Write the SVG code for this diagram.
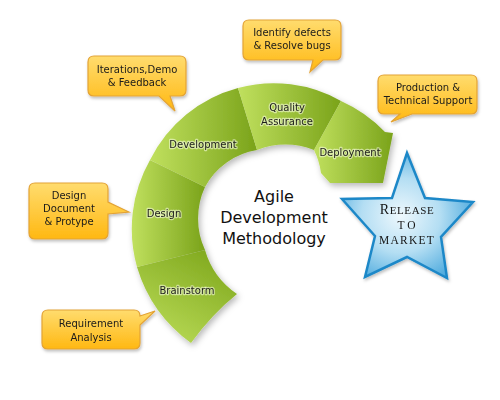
<svg xmlns="http://www.w3.org/2000/svg" width="500" height="400" viewBox="0 0 500 400">
<defs>
<linearGradient id="gH" x1="0" y1="0" x2="1" y2="0"><stop offset="0" stop-color="#c0e05e"/><stop offset="1" stop-color="#7aa31a"/></linearGradient>
<linearGradient id="gB" x1="0" y1="1" x2="0.6" y2="0"><stop offset="0" stop-color="#bfe05c"/><stop offset="1" stop-color="#84ac22"/></linearGradient>
<linearGradient id="gC" x1="0" y1="0" x2="0" y2="1"><stop offset="0" stop-color="#ffdc6e"/><stop offset="1" stop-color="#ffb812"/></linearGradient>
<radialGradient id="gS" cx="0.45" cy="0.5" r="0.6"><stop offset="0" stop-color="#eef8fd"/><stop offset="0.5" stop-color="#b4def3"/><stop offset="1" stop-color="#45a6dc"/></radialGradient>
<filter id="sh" x="-20%" y="-20%" width="140%" height="140%"><feDropShadow dx="2" dy="3" stdDeviation="3" flood-color="#000" flood-opacity="0.28"/></filter>
<filter id="sh2" x="-20%" y="-20%" width="140%" height="140%"><feDropShadow dx="1" dy="2" stdDeviation="1.5" flood-color="#000" flood-opacity="0.25"/></filter>
</defs>
<style>
.seg{stroke:none}
.lbl{font-family:"DejaVu Sans",sans-serif;font-size:10px;fill:#1c1c1c;text-anchor:middle;stroke:#fbffe8;stroke-width:2.4;stroke-opacity:0.55;paint-order:stroke;stroke-linejoin:round}
.ctr{font-family:"DejaVu Sans",sans-serif;font-size:16px;fill:#111;text-anchor:middle}
.call{fill:url(#gC);stroke:#e3a336;stroke-width:1.2}
.ct{font-family:"DejaVu Sans",sans-serif;font-size:10px;fill:#1a1a1a;text-anchor:middle}
.st{font-family:"Liberation Serif",serif;fill:#151515;text-anchor:middle}
</style>
<g id="connectors"></g>
<g id="cycle" filter="url(#sh)">
<g id="brainstorm">
<path class="seg" fill="url(#gB)" d="M191,343 A145,145 0 0 1 137,267 L205,250 A80,80 0 0 0 237,294 Q212,314 191,343 Z"/>
<text class="lbl" x="187" y="294">Brainstorm</text>
</g>
<g id="design">
<path class="seg" fill="url(#gH)" d="M137,267 A140,140 0 0 1 150,160 L205,187 A75,75 0 0 0 205,250 Z"/>
<text class="lbl" x="164" y="217">Design</text>
</g>
<g id="development">
<path class="seg" fill="url(#gH)" d="M150,160 A138,138 0 0 1 238,88 L257,150 A72,72 0 0 0 205,187 Z"/>
<text class="lbl" x="203" y="148">Development</text>
</g>
<g id="quality">
<path class="seg" fill="url(#gH)" d="M238,88 A137,137 0 0 1 341,101 L314,150 A80,80 0 0 0 257,150 Z"/>
<text class="lbl" x="287" y="111">Quality</text>
<text class="lbl" x="287" y="125">Assurance</text>
</g>
<g id="deployment">
<path class="seg" fill="url(#gH)" d="M341,101 A140,140 0 0 1 385,132 L393,133 L383,183 L330,183 L321,173 A75,75 0 0 0 314,150 Z"/>
<text class="lbl" x="350" y="156">Deployment</text>
</g>
</g>
<g id="center">
<text class="ctr" x="274" y="202">Agile</text>
<text class="ctr" x="274" y="223">Development</text>
<text class="ctr" x="274" y="244">Methodology</text>
</g>
<g id="release" filter="url(#sh2)">
<polygon fill="url(#gS)" stroke="#1e88c8" stroke-width="2.5" stroke-linejoin="miter" points="407,153 425,198 473,202 441,237 447,278 407,257 365,277 375,236 342,199 392,198"/>
<text class="st" x="407" y="214" letter-spacing="0.6"><tspan font-size="14">R</tspan><tspan font-size="11">ELEASE</tspan></text>
<text class="st" x="408" y="229" font-size="11.5" letter-spacing="3">TO</text>
<text class="st" x="407" y="244" font-size="11.5" letter-spacing="1.2">MARKET</text>
</g>
<g id="callout-iterations" filter="url(#sh2)">
<path class="call" d="M94,56 H180 Q186,56 186,62 V90 Q186,96 180,96 H170 L175,111 L159,96 H94 Q88,96 88,90 V62 Q88,56 94,56 Z"/>
<text class="ct" x="137" y="73">Iterations,Demo</text>
<text class="ct" x="137" y="86">&amp; Feedback</text>
</g>
<g id="callout-defects" filter="url(#sh2)">
<path class="call" d="M249,20 H335 Q341,20 341,26 V54 Q341,60 335,60 H323 L310,72 L313,60 H249 Q243,60 243,54 V26 Q243,20 249,20 Z"/>
<text class="ct" x="292" y="36">Identify defects</text>
<text class="ct" x="292" y="49">&amp; Resolve bugs</text>
</g>
<g id="callout-production" filter="url(#sh2)">
<path class="call" d="M384,75 H471 Q477,75 477,81 V108 Q477,114 471,114 H412 L391,122 L400,114 H384 Q378,114 378,108 V81 Q378,75 384,75 Z"/>
<text class="ct" x="428" y="91">Production &amp;</text>
<text class="ct" x="428" y="104">Technical Support</text>
</g>
<g id="callout-design" filter="url(#sh2)">
<path class="call" d="M35,183 H102 Q108,183 108,189 V202 L129,212 L108,214 V233 Q108,239 102,239 H35 Q29,239 29,233 V189 Q29,183 35,183 Z"/>
<text class="ct" x="69" y="199">Design</text>
<text class="ct" x="69" y="212">Document</text>
<text class="ct" x="69" y="225">&amp; Protype</text>
</g>
<g id="callout-requirement" filter="url(#sh2)">
<path class="call" d="M48,310 H134 Q140,310 140,316 V316 L155,311 L140,325 V343 Q140,349 134,349 H48 Q42,349 42,343 V316 Q42,310 48,310 Z"/>
<text class="ct" x="91" y="327">Requirement</text>
<text class="ct" x="91" y="341">Analysis</text>
</g>
</svg>
